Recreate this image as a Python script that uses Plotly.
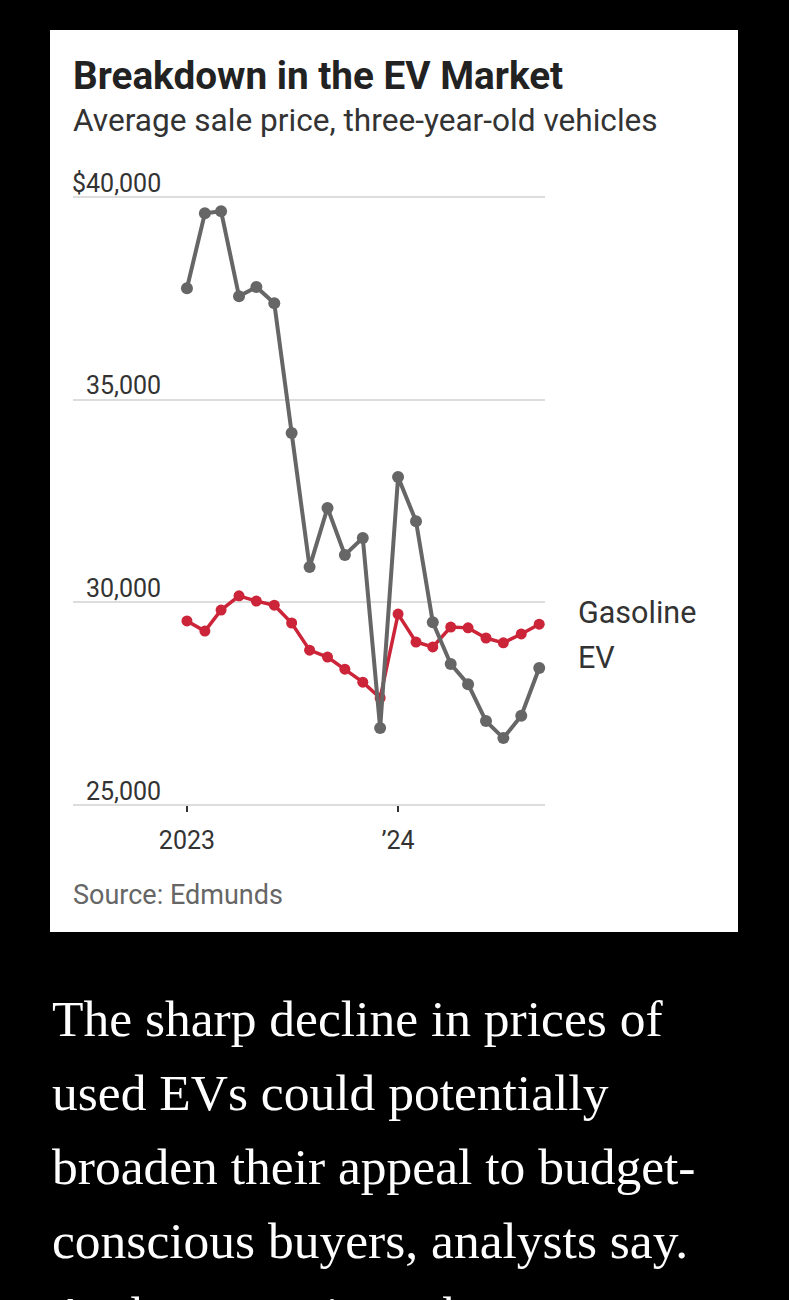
import plotly.graph_objects as go

# ---- data ----
months = ["2023-01-01", "2023-02-01", "2023-03-01", "2023-04-01", "2023-05-01", "2023-06-01",
          "2023-07-01", "2023-08-01", "2023-09-01", "2023-10-01", "2023-11-01", "2023-12-01",
          "2024-01-01", "2024-02-01", "2024-03-01", "2024-04-01", "2024-05-01", "2024-06-01",
          "2024-07-01", "2024-08-01", "2024-09-01"]
ev_prices = [37750, 39600, 39650, 37550, 37780, 37380, 34180, 30870, 32330, 31170, 31590, 26900,
             33090, 32000, 29510, 28480, 27980, 27070, 26650, 27200, 28380]
gas_prices = [29540, 29290, 29810, 30160, 30030, 29930, 29490, 28820, 28650, 28350, 28030, 27640,
              29710, 29020, 28900, 29390, 29370, 29120, 29000, 29220, 29460]
y_tick_vals = [25000, 30000, 35000, 40000]
y_tick_text = ["25,000", "30,000", "35,000", "$40,000"]
x_tick_vals = ["2023-01-01", "2024-01-01"]
x_tick_text = ["2023", "\u201924"]
series_labels = [("Gasoline", 29760), ("EV", 28630)]
body_lines = ["The sharp decline in prices of",
              "used EVs could potentially",
              "broaden their appeal to budget-",
              "conscious buyers, analysts say.",
              "At the same time, the"]

W, H = 789, 1300
SANS = "Roboto, 'Open Sans', sans-serif"
SERIF = "'Liberation Serif', 'DejaVu Serif', serif"

def px(x):
    return x / W

def py(y):
    return 1 - y / H

# y axis: 40,000 at y=197 px, 25,000 at y=805 px
pad = 200
ppu = (805 - 197) / 15000.0
y_top_px = 197 - pad * ppu
y_bot_px = 805 + pad * ppu

fig = go.Figure()
fig.add_trace(go.Scatter(
    x=months, y=gas_prices, mode="lines+markers", name="Gasoline",
    line=dict(color="#cc2438", width=3.5), marker=dict(color="#cc2438", size=11),
    cliponaxis=False, showlegend=False))
fig.add_trace(go.Scatter(
    x=months, y=ev_prices, mode="lines+markers", name="EV",
    line=dict(color="#666666", width=4), marker=dict(color="#666666", size=12),
    cliponaxis=False, showlegend=False))

annotations = []
# title, subtitle, source
annotations.append(dict(text="<b>Breakdown in the EV Market</b>", x=px(71), y=py(76),
                        xref="paper", yref="paper", xanchor="left", yanchor="middle",
                        showarrow=False, font=dict(family=SANS, size=38.7, color="#222222")))
annotations.append(dict(text="Average sale price, three-year-old vehicles", x=px(71), y=py(121),
                        xref="paper", yref="paper", xanchor="left", yanchor="middle",
                        showarrow=False, font=dict(family=SANS, size=31.6, color="#333333")))
annotations.append(dict(text="Source: Edmunds", x=px(71), y=py(895),
                        xref="paper", yref="paper", xanchor="left", yanchor="middle",
                        showarrow=False, font=dict(family=SANS, size=27, color="#666666")))
# y tick labels above gridlines
for v, t in zip(y_tick_vals, y_tick_text):
    annotations.append(dict(text=t, x=px(163), y=v, xref="paper", yref="y",
                            xanchor="right", yanchor="middle", yshift=14,
                            showarrow=False, font=dict(family=SANS, size=25, color="#333333")))
# series labels
for t, v in series_labels:
    annotations.append(dict(text=t, x=px(576), y=v, xref="paper", yref="y",
                            xanchor="left", yanchor="middle",
                            showarrow=False, font=dict(family=SANS, size=30.5, color="#333333")))
# body text
for i, line in enumerate(body_lines):
    annotations.append(dict(text=line, x=px(50), y=py(1018 + i * 74),
                            xref="paper", yref="paper", xanchor="left", yanchor="middle",
                            showarrow=False, font=dict(family=SERIF, size=51.5, color="#ffffff")))

fig.update_layout(
    width=W, height=H,
    margin=dict(l=0, r=0, t=0, b=0),
    paper_bgcolor="#000000", plot_bgcolor="rgba(0,0,0,0)",
    shapes=[dict(type="rect", xref="paper", yref="paper", x0=px(50), x1=px(738),
                 y0=py(932), y1=py(30), fillcolor="#ffffff", line=dict(width=0), layer="below")],
    annotations=annotations,
    xaxis=dict(type="date", domain=[px(73), px(545)],
               range=["2022-06-18", "2024-09-11"],
               anchor="free", position=py(805),
               tickvals=x_tick_vals, ticktext=x_tick_text,
               ticks="outside", ticklen=6, tickwidth=2, tickcolor="#333333",
               ticklabelstandoff=7,
               showgrid=False, zeroline=False, showline=False,
               tickfont=dict(family=SANS, size=25, color="#333333"), fixedrange=True),
    yaxis=dict(domain=[py(y_bot_px), py(y_top_px)], range=[25000 - pad, 40000 + pad],
               tickvals=y_tick_vals, showticklabels=False, ticks="",
               showgrid=True, gridcolor="#dddddd", gridwidth=1.5,
               zeroline=False, showline=False, fixedrange=True),
)

fig.write_html("out.html")
